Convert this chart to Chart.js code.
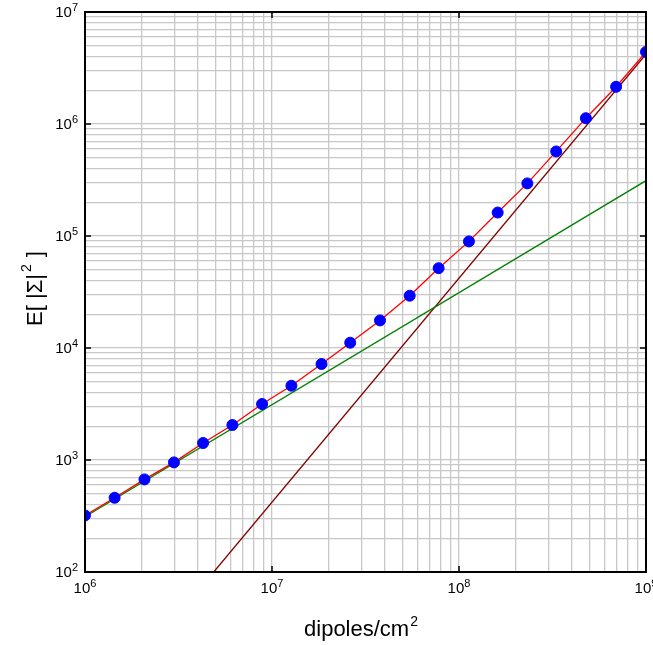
<!DOCTYPE html>
<html>
<head>
<meta charset="utf-8">
<script src="https://cdn.jsdelivr.net/npm/chart.js@4/dist/chart.umd.min.js"></script>
<style>
  html, body { margin: 0; padding: 0; background: #fff; }
  #wrap { width: 653px; height: 645px; }
</style>
</head>
<body>
<div id="wrap"><canvas id="dipoleChart"></canvas></div>
<script>
// Expected squared sum vs dipole density, log-log
// Blue markers: measured points; red: fit through them; green: linear term; dark red: quadratic term

const pointX = [1e6, 1.44e6, 2.08e6, 2.99e6, 4.28e6, 6.14e6, 8.85e6, 1.27e7, 1.84e7, 2.62e7,
                3.78e7, 5.45e7, 7.78e7, 1.13e8, 1.61e8, 2.32e8, 3.31e8, 4.77e8, 6.92e8, 1e9];
const pointY = [320, 460, 671, 952, 1418, 2053, 3162, 4605, 7197, 11150,
                17630, 29300, 51580, 89500, 162000, 295000, 569000, 1127000, 2150000, 4400000];

// straight lines on the log-log plot: two end points each
const linearX = [1e6, 1e9];
const linearY = [312, 312000];
const quadX = [4.88e6, 1e9];
const quadY = [100, 4200000];

const xDecades = [6, 7, 8, 9];
const yDecades = [2, 3, 4, 5, 6, 7];

const toXY = (xs, ys) => xs.map((v, i) => ({ x: v, y: ys[i] }));

// 1..9 x 10^n ticks for the grid
function logTicks(lo, hi) {
    const t = [];
    for (let e = lo; e < hi; e++) {
        for (let m = 1; m <= 9; m++) t.push({ value: m * Math.pow(10, e) });
    }
    t.push({ value: Math.pow(10, hi) });
    return t;
}

// Frame, inner tick marks, superscript tick labels and axis titles
const framePlugin = {
    id: 'frame',
    afterDraw(chart) {
        const { ctx, chartArea: a, scales: { x, y } } = chart;
        ctx.save();
        ctx.strokeStyle = '#000';
        ctx.lineWidth = 2;
        ctx.strokeRect(a.left, a.top, a.right - a.left, a.bottom - a.top);

        // major tick marks pointing inward
        ctx.lineWidth = 1.5;
        ctx.beginPath();
        for (const e of xDecades) {
            const px = x.getPixelForValue(Math.pow(10, e));
            ctx.moveTo(px, a.bottom); ctx.lineTo(px, a.bottom - 6);
            ctx.moveTo(px, a.top); ctx.lineTo(px, a.top + 6);
        }
        for (const e of yDecades) {
            const py = y.getPixelForValue(Math.pow(10, e));
            ctx.moveTo(a.left, py); ctx.lineTo(a.left + 6, py);
            ctx.moveTo(a.right, py); ctx.lineTo(a.right - 6, py);
        }
        ctx.stroke();

        // tick labels: "10" with a raised exponent
        ctx.fillStyle = '#000';
        ctx.textBaseline = 'alphabetic';
        const base = '15px Arial, "Liberation Sans", sans-serif';
        const sup = '11px Arial, "Liberation Sans", sans-serif';
        const label = (e, px, py, align) => {
            ctx.font = base;
            const w1 = ctx.measureText('10').width;
            ctx.font = sup;
            const w2 = ctx.measureText(String(e)).width;
            let left = px;
            if (align === 'right') left = px - w1 - w2;
            else if (align === 'center') left = px - (w1 + w2) / 2;
            ctx.font = base;
            ctx.fillText('10', left, py);
            ctx.font = sup;
            ctx.fillText(String(e), left + w1, py - 6);
        };
        for (const e of xDecades) {
            label(e, x.getPixelForValue(Math.pow(10, e)), a.bottom + 21, 'center');
        }
        for (const e of yDecades) {
            label(e, a.left - 7, y.getPixelForValue(Math.pow(10, e)) + 5, 'right');
        }

        // x title
        const tFont = '22px Arial, "Liberation Sans", sans-serif';
        const tSup = '14px Arial, "Liberation Sans", sans-serif';
        ctx.font = tFont;
        const xt = 'dipoles/cm';
        const xw = ctx.measureText(xt).width;
        ctx.font = tSup;
        const xs = ctx.measureText('2').width;
        const xl = (a.left + a.right) / 2 - (xw + xs) / 2 - 5;
        ctx.font = tFont;
        ctx.fillText(xt, xl, 636);
        ctx.font = tSup;
        ctx.fillText('2', xl + xw + 1, 626);

        // y title, rotated
        ctx.translate(42, 290);
        ctx.rotate(-Math.PI / 2);
        ctx.font = tFont;
        const p1 = 'E[ |\u03A3|';
        const p2 = ' ]';
        const w1 = ctx.measureText(p1).width;
        const w3 = ctx.measureText(p2).width;
        ctx.font = tSup;
        const w2 = ctx.measureText('2').width;
        const start = -(w1 + w2 + w3) / 2;
        ctx.font = tFont;
        ctx.fillText(p1, start, 0);
        ctx.font = tSup;
        ctx.fillText('2', start + w1 + 2, -11);
        ctx.font = tFont;
        ctx.fillText(p2, start + w1 + w2 + 3, 0);
        ctx.restore();
    }
};

new Chart(document.getElementById('dipoleChart').getContext('2d'), {
    type: 'scatter',
    data: {
        datasets: [
            {
                label: 'points',
                data: toXY(pointX, pointY),
                backgroundColor: '#0000ff',
                borderColor: '#0000ff',
                pointRadius: 5.5,
                showLine: false
            },
            {
                label: 'total',
                data: toXY(pointX, pointY),
                borderColor: '#ff0000',
                borderWidth: 1.3,
                pointRadius: 0,
                showLine: true
            },
            {
                label: 'linear',
                data: toXY(linearX, linearY),
                borderColor: '#008000',
                borderWidth: 1.3,
                pointRadius: 0,
                showLine: true
            },
            {
                label: 'quadratic',
                data: toXY(quadX, quadY),
                borderColor: '#800000',
                borderWidth: 1.3,
                pointRadius: 0,
                showLine: true
            }
        ]
    },
    options: {
        responsive: true,
        maintainAspectRatio: false,
        animation: false,
        events: [],
        layout: { padding: { top: 12, right: 7, left: 0, bottom: 0 } },
        plugins: {
            legend: { display: false },
            tooltip: { enabled: false }
        },
        scales: {
            x: {
                type: 'logarithmic',
                min: 1e6, max: 1e9,
                afterBuildTicks: s => { s.ticks = logTicks(6, 9); },
                afterFit: s => { s.height = 73; },
                ticks: { display: false },
                border: { display: false },
                grid: { color: '#c8c8c8', lineWidth: 1.3, drawTicks: false }
            },
            y: {
                type: 'logarithmic',
                min: 1e2, max: 1e7,
                afterBuildTicks: s => { s.ticks = logTicks(2, 7); },
                afterFit: s => { s.width = 85; },
                ticks: { display: false },
                border: { display: false },
                grid: { color: '#c8c8c8', lineWidth: 1.3, drawTicks: false }
            }
        }
    },
    plugins: [framePlugin]
});
</script>
</body>
</html>
